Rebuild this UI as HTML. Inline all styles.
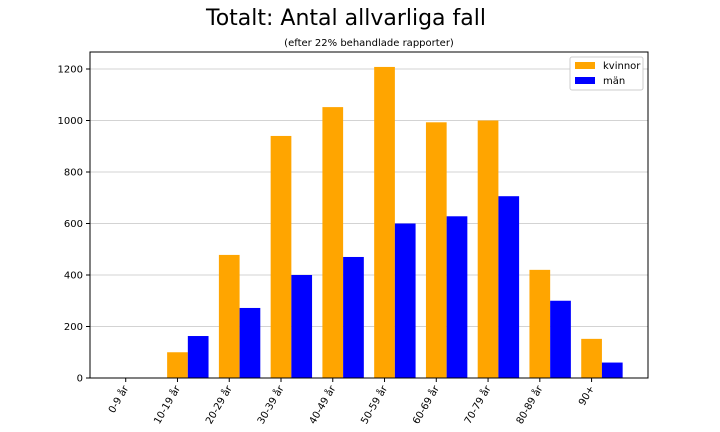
<!DOCTYPE html>
<html><head><meta charset="utf-8"><style>
body{margin:0;background:#fff;}
svg{display:block;font-family:"DejaVu Sans","Liberation Sans",sans-serif;}
</style></head><body>
<svg id="chart" width="720" height="432">
<rect width="720" height="432" fill="#fff"/>
<text x="346" y="25" font-size="22" text-anchor="middle">Totalt: Antal allvarliga fall</text>
<text x="369" y="46" font-size="10" text-anchor="middle">(efter 22% behandlade rapporter)</text>
<g id="grid"></g><g id="bars"></g><g id="axes"></g>
<g>
<rect x="570" y="57" width="73" height="33" fill="#fff" stroke="#ccc" rx="2"/>
<rect x="575" y="62" width="20" height="7" fill="orange"/>
<text x="603" y="69" font-size="10">kvinnor</text>
<rect x="575" y="77" width="20" height="7" fill="blue"/>
<text x="603" y="84" font-size="10">män</text>
</g>
</svg>
<script>
const categories=["0-9 år","10-19 år","20-29 år","30-39 år","40-49 år","50-59 år","60-69 år","70-79 år","80-89 år","90+"];
const kvinnor=[0,100,478,940,1052,1208,993,1000,420,152];
const man=[0,163,272,400,470,600,628,706,300,60];
const yTicks=[0,200,400,600,800,1000,1200];
const L=90,R=648,T=52,B=378;
const xMin=-0.69,xMax=10.09;
function xs(v){return L+(v-xMin)/(xMax-xMin)*(R-L);}
function ys(v){return B-v/1200*(B-69);}
const NS="http://www.w3.org/2000/svg";
function mk(tag,attrs,parent){const e=document.createElementNS(NS,tag);for(const k in attrs)e.setAttribute(k,attrs[k]);parent.appendChild(e);return e;}
const grid=document.getElementById('grid'),bars=document.getElementById('bars'),axes=document.getElementById('axes');
yTicks.forEach(t=>{
 const y=ys(t);
 const g=mk('line',{x1:L,x2:R,y1:y,y2:y,stroke:'#d3d3d3','stroke-width':1},grid);
 
 
 mk('line',{x1:L-4,x2:L,y1:y,y2:y,stroke:'#000'},axes);
 const tx=mk('text',{x:L-7,y:y+3.5,'font-size':10,'text-anchor':'end'},axes);
 tx.textContent=t;
 
 
});
categories.forEach((c,i)=>{
 const w=xs(0.4)-xs(0);
 const b1=mk('rect',{x:xs(i-0.2),y:ys(kvinnor[i]),width:w,height:B-ys(kvinnor[i]),fill:'orange'},bars);
 
 
 const b2=mk('rect',{x:xs(i+0.2),y:ys(man[i]),width:w,height:B-ys(man[i]),fill:'blue'},bars);
 
 
 const x=xs(i);
 mk('line',{x1:x,x2:x,y1:B,y2:B+4,stroke:'#000'},axes);
 const tx=mk('text',{x:x+3,y:B+10,'font-size':10,'text-anchor':'end',transform:`rotate(-60 ${x+3} ${B+10})`},axes);
 tx.textContent=c;
 
 
});
const f=mk('rect',{x:L,y:T,width:R-L,height:B-T,fill:'none',stroke:'#000','stroke-width':1},axes);


</script>
</body></html>
